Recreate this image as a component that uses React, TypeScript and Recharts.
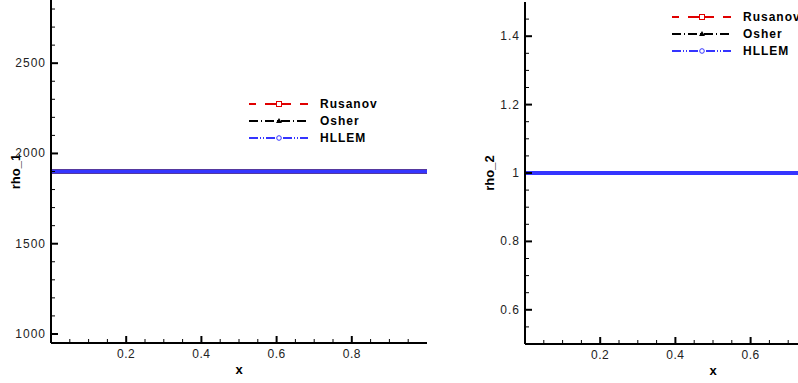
import { LineChart, Line, XAxis, YAxis, Legend, Label } from 'recharts'

const xs = [0, 0.1, 0.2, 0.3, 0.4, 0.5, 0.6, 0.7, 0.8, 0.9, 1]
const rho1Rusanov = [1900, 1900, 1900, 1900, 1900, 1900, 1900, 1900, 1900, 1900, 1900]
const rho1Osher = [1900, 1900, 1900, 1900, 1900, 1900, 1900, 1900, 1900, 1900, 1900]
const rho1Hllem = [1900, 1900, 1900, 1900, 1900, 1900, 1900, 1900, 1900, 1900, 1900]
const rho2Rusanov = [1, 1, 1, 1, 1, 1, 1, 1, 1, 1, 1]
const rho2Osher = [1, 1, 1, 1, 1, 1, 1, 1, 1, 1, 1]
const rho2Hllem = [1, 1, 1, 1, 1, 1, 1, 1, 1, 1, 1]

const seriesNames = ['Rusanov', 'Osher', 'HLLEM']
const xTicks = [0.05, 0.1, 0.15, 0.2, 0.25, 0.3, 0.35, 0.4, 0.45, 0.5, 0.55, 0.6, 0.65, 0.7, 0.75, 0.8, 0.85, 0.9, 0.95]
const xLabels = [0.2, 0.4, 0.6, 0.8]
const rho1Ticks = [1000, 1100, 1200, 1300, 1400, 1500, 1600, 1700, 1800, 1900, 2000, 2100, 2200, 2300, 2400, 2500, 2600, 2700, 2800]
const rho1Labels = [1000, 1500, 2000, 2500]
const rho2Ticks = [0.55, 0.6, 0.65, 0.7, 0.75, 0.8, 0.85, 0.9, 0.95, 1, 1.05, 1.1, 1.15, 1.2, 1.25, 1.3, 1.35, 1.4, 1.45]
const rho2Labels = [0.6, 0.8, 1, 1.2, 1.4]

const FONT = "'Liberation Sans', Arial, sans-serif"

const rho1Data = xs.map((x, i) => ({ x, Rusanov: rho1Rusanov[i], Osher: rho1Osher[i], HLLEM: rho1Hllem[i] }))
const rho2Data = xs.map((x, i) => ({ x, Rusanov: rho2Rusanov[i], Osher: rho2Osher[i], HLLEM: rho2Hllem[i] }))

const legendStyle: Record<string, { dash: string; marker: string }> = {
  Rusanov: { dash: '7 9 26 9 8', marker: 'square' },
  Osher: { dash: '9 3 1 3', marker: 'triangle' },
  HLLEM: { dash: '9 2 1 2 1 2', marker: 'circle' },
}

function Marker({ type, color }: { type: string; color: string }) {
  if (type === 'square') return <rect x={27.5} y={2.5} width={5} height={5} fill="#fff" stroke={color} strokeWidth={1} />
  if (type === 'triangle') return <polygon points="30,2 33,7 27,7" fill={color} />
  return <circle cx={30} cy={5} r={2.3} fill="#fff" stroke={color} strokeWidth={1} />
}

function renderLegend(props: any) {
  const payload = [...(props.payload || [])].sort(
    (a: any, b: any) => seriesNames.indexOf(a.value) - seriesNames.indexOf(b.value)
  )
  return (
    <div style={{ fontFamily: FONT }}>
      {payload.map((p: any) => {
        const st = legendStyle[p.value]
        return (
          <div key={p.value} style={{ display: 'flex', alignItems: 'center', height: 16.7 }}>
            <svg width={59} height={10} style={{ display: 'block' }}>
              <line x1={0} x2={59} y1={5} y2={5} stroke={p.color} strokeWidth={2} strokeDasharray={st.dash} />
              <Marker type={st.marker} color={p.color} />
            </svg>
            <span style={{ marginLeft: 12, fontSize: 12, fontWeight: 'bold', letterSpacing: 1, color: '#000', lineHeight: '12px' }}>
              {p.value}
            </span>
          </div>
        )
      })}
    </div>
  )
}

function makeXTick(labels: number[]) {
  return (props: any) => {
    const { x, y, payload } = props
    const major = labels.includes(payload.value)
    return (
      <g>
        <line x1={x} x2={x} y1={y} y2={y - (major ? 7 : 4)} stroke="#000" strokeWidth={major ? 2 : 1} />
        {major && (
          <text x={x} y={y + 15} textAnchor="middle" fontSize={12} fontFamily={FONT} fill="#222" letterSpacing={0.5}>
            {payload.value}
          </text>
        )}
      </g>
    )
  }
}

function makeYTick(labels: number[]) {
  return (props: any) => {
    const { x, y, payload } = props
    const major = labels.includes(payload.value)
    return (
      <g>
        <line x1={x} x2={x + (major ? 7 : 4)} y1={y} y2={y} stroke="#000" strokeWidth={major ? 2 : 1} />
        {major && (
          <text x={x - 5} y={y + 4} textAnchor="end" fontSize={12} fontFamily={FONT} fill="#222" letterSpacing={1}>
            {payload.value}
          </text>
        )}
      </g>
    )
  }
}

function yTitle(text: string) {
  return (props: any) => {
    const vb = props.viewBox
    const cy = vb.y + vb.height / 2
    return (
      <text x={20} y={cy} transform={`rotate(-90, 20, ${cy})`} textAnchor="middle" fontSize={13} fontWeight="bold" fontFamily={FONT} fill="#000">
        {text}
      </text>
    )
  }
}

function xTitle(props: any) {
  const vb = props.viewBox
  return (
    <text x={vb.x + vb.width / 2} y={vb.y + 31} textAnchor="middle" fontSize={13} fontWeight="bold" fontFamily={FONT} fill="#000">
      x
    </text>
  )
}

function Panel({ data, domain, ticks, labels, title, top, xHeight, legendPos }: any) {
  return (
    <LineChart width={440} height={383} data={data} margin={{ top, right: 13, bottom: 0, left: 0 }}>
      <XAxis
        dataKey="x"
        type="number"
        domain={[0, 1]}
        ticks={xTicks}
        interval={0}
        height={xHeight}
        tickSize={0}
        tickMargin={0}
        tickLine={false}
        axisLine={{ stroke: '#000', strokeWidth: 2 }}
        tick={makeXTick(xLabels)}
        allowDataOverflow
      >
        <Label content={xTitle} />
      </XAxis>
      <YAxis
        type="number"
        domain={domain}
        ticks={ticks}
        interval={0}
        width={51}
        tickSize={0}
        tickMargin={0}
        tickLine={false}
        axisLine={{ stroke: '#000', strokeWidth: 2 }}
        tick={makeYTick(labels)}
        allowDataOverflow
      >
        <Label content={yTitle(title)} />
      </YAxis>
      <Legend
        layout="vertical"
        align="center"
        verticalAlign="middle"
        content={renderLegend}
        wrapperStyle={{ left: legendPos[0], top: legendPos[1], width: 150 }}
      />
      <Line dataKey="Rusanov" name="Rusanov" stroke="#e00000" strokeWidth={4} dot={false} isAnimationActive={false} />
      <Line dataKey="Osher" name="Osher" stroke="#000000" strokeWidth={4} dot={false} isAnimationActive={false} />
      <Line dataKey="HLLEM" name="HLLEM" stroke="#3535ff" strokeWidth={4} dot={false} isAnimationActive={false} />
    </LineChart>
  )
}

export default function App() {
  return (
    <div style={{ position: 'absolute', left: 0, top: 0, width: 798, height: 383, overflow: 'hidden', background: '#fff' }}>
      <div style={{ position: 'absolute', left: 0, top: 0 }}>
        <Panel data={rho1Data} domain={[950, 2850]} ticks={rho1Ticks} labels={rho1Labels} title="rho_1" top={0} xHeight={40} legendPos={[249, 96]} />
      </div>
      <div style={{ position: 'absolute', left: 474, top: 0 }}>
        <Panel data={rho2Data} domain={[0.5, 1.5]} ticks={rho2Ticks} labels={rho2Labels} title="rho_2" top={2} xHeight={39} legendPos={[198, 9]} />
      </div>
    </div>
  )
}
